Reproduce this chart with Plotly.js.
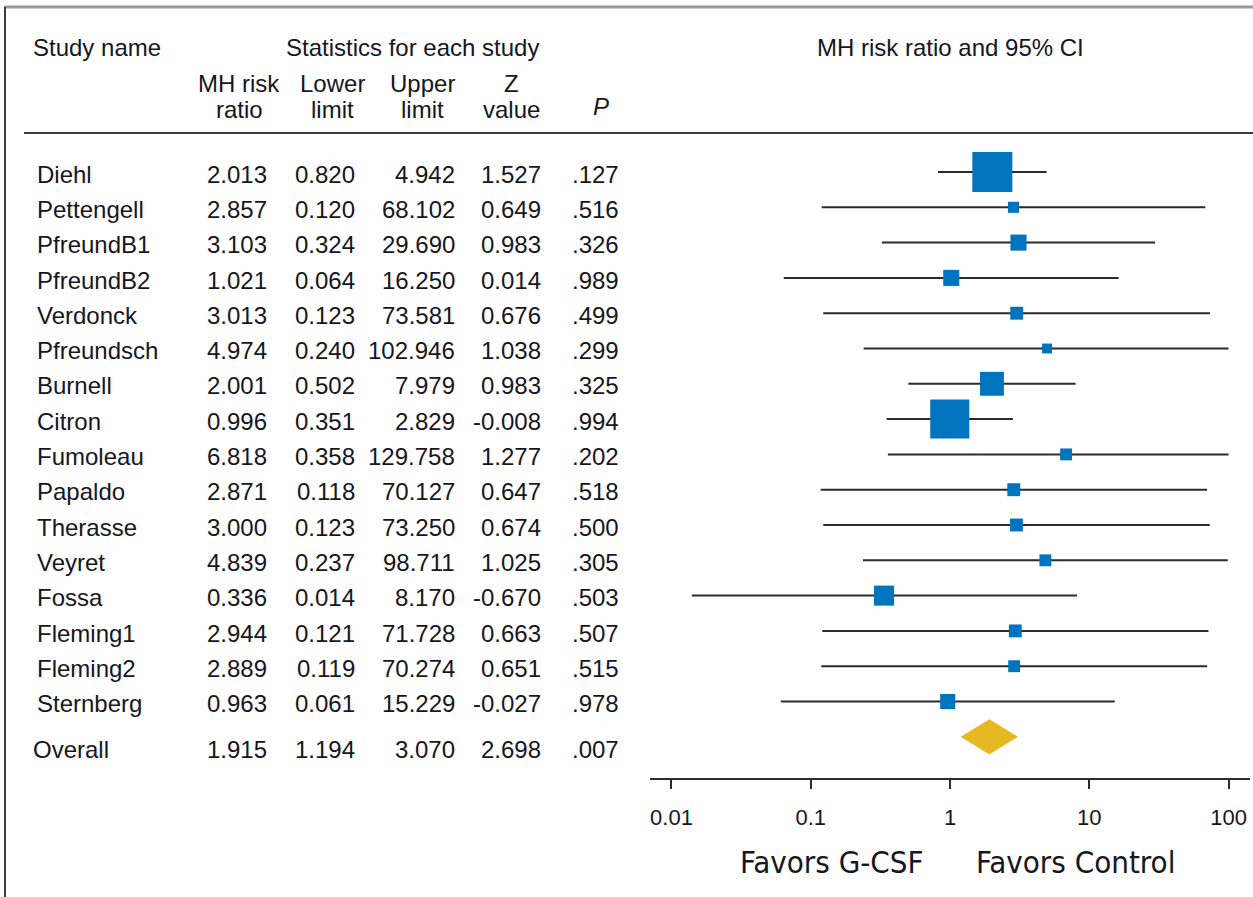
<!DOCTYPE html>
<html>
<head>
<meta charset="utf-8">
<script src="https://cdn.plot.ly/plotly-3.0.1.min.js"></script>
<style>
  html, body { margin: 0; padding: 0; background: #ffffff; }
  #chart { width: 1253px; height: 897px; }
</style>
</head>
<body>
<div id="chart"></div>
<script>
// G-CSF meta-analysis: Mantel-Haenszel risk ratios with 95% confidence limits
const studies = ["Diehl", "Pettengell", "PfreundB1", "PfreundB2", "Verdonck", "Pfreundsch",
  "Burnell", "Citron", "Fumoleau", "Papaldo", "Therasse", "Veyret", "Fossa",
  "Fleming1", "Fleming2", "Sternberg"];
const riskRatio = [2.013, 2.857, 3.103, 1.021, 3.013, 4.974, 2.001, 0.996, 6.818, 2.871,
  3.000, 4.839, 0.336, 2.944, 2.889, 0.963];
const lowerLimit = [0.820, 0.120, 0.324, 0.064, 0.123, 0.240, 0.502, 0.351, 0.358, 0.118,
  0.123, 0.237, 0.014, 0.121, 0.119, 0.061];
const upperLimit = [4.942, 68.102, 29.690, 16.250, 73.581, 102.946, 7.979, 2.829, 129.758,
  70.127, 73.250, 98.711, 8.170, 71.728, 70.274, 15.229];
const zValue = [1.527, 0.649, 0.983, 0.014, 0.676, 1.038, 0.983, -0.008, 1.277, 0.647,
  0.674, 1.025, -0.670, 0.663, 0.651, -0.027];
const pValue = [0.127, 0.516, 0.326, 0.989, 0.499, 0.299, 0.325, 0.994, 0.202, 0.518,
  0.500, 0.305, 0.503, 0.507, 0.515, 0.978];
// relative study weights (%), used for the size of each box
const relWeight = [26.0, 2.0, 4.2, 4.2, 2.7, 1.6, 9.3, 24.7, 2.3, 2.7, 2.7, 2.3, 6.5,
  2.7, 2.3, 3.7];

const overallLabel = "Overall";
const overallRR = 1.915;
const overallLower = 1.194;
const overallUpper = 3.070;
const overallZ = 2.698;
const overallP = 0.007;

const tickValues = [0.01, 0.1, 1, 10, 100];
const tickLabels = ["0.01", "0.1", "1", "10", "100"];
const axisMax = 100;

// ---- layout geometry (pixels of a 1253 x 897 page) ----
const W = 1253, H = 897;
const rowTopPx = 172, rowStepPx = 35.3;
const axisPx = 779, dividerPx = 133;
const px2row = p => (p - rowTopPx) / rowStepPx;
const xp = p => p / W;          // paper x from pixel
const yp = p => 1 - p / H;      // paper y from pixel

const ink = "#16161e";
const tableFont = { family: "Liberation Sans, Arial, sans-serif", size: 24, color: ink };
const narrowFont = { family: "Liberation Sans Narrow, DejaVu Sans Condensed, Arial Narrow, sans-serif", size: 31, color: ink };

const fmt = v => v.toFixed(3);
const fmtP = v => v.toFixed(3).replace(/^0/, "");

const rows = studies.map((_, i) => i);
const overallRow = studies.length;

// CI whiskers, clipped at the top of the axis
const ciX = [], ciY = [];
rows.forEach(i => {
  ciX.push(lowerLimit[i], Math.min(upperLimit[i], axisMax), null);
  ciY.push(i, i, null);
});

const traces = [
  {
    type: "scatter", mode: "lines", x: ciX, y: ciY,
    line: { color: "#2b2b2b", width: 2 }, hoverinfo: "skip"
  },
  {
    type: "scatter", mode: "markers", x: riskRatio, y: rows,
    marker: {
      symbol: "square", color: "#0074bf", opacity: 1,
      size: relWeight.map(w => 7.85 * Math.sqrt(w)),
      line: { width: 0 }
    },
    text: studies, hoverinfo: "text+x"
  },
  {
    type: "scatter", mode: "lines", fill: "toself",
    x: [overallLower, overallRR, overallUpper, overallRR, overallLower],
    y: [overallRow, overallRow - 0.5, overallRow, overallRow + 0.5, overallRow],
    fillcolor: "#e6b923", line: { width: 0, color: "#e6b923" }, hoverinfo: "skip"
  }
];

// table columns: right edges in pixels
const colRight = { rr: 269, lo: 357, hi: 457, z: 543, p: 621 };
const annotations = [];
const addText = (text, x, y, anchor, font, yref) => annotations.push({
  text, x, y, xref: "paper", yref: yref || "paper", xanchor: anchor, yanchor: "middle",
  showarrow: false, font: font || tableFont
});

// headers
addText("Study name", xp(31), yp(47), "left");
addText("Statistics for each study", xp(412), yp(47), "center");
addText("MH risk", xp(239), yp(84), "center");
addText("ratio", xp(239), yp(110), "center");
addText("Lower", xp(332), yp(84), "center");
addText("limit", xp(332), yp(110), "center");
addText("Upper", xp(422), yp(84), "center");
addText("limit", xp(422), yp(110), "center");
addText("Z", xp(511), yp(84), "center");
addText("value", xp(511), yp(110), "center");
addText("<i>P</i>", xp(601), yp(106), "center");
addText("MH risk ratio and 95% CI", xp(950), yp(47), "center");

// study rows
const textDy = 0.06;
rows.forEach(i => {
  const y = i + textDy;
  addText(studies[i], xp(35), y, "left", null, "y");
  addText(fmt(riskRatio[i]), xp(colRight.rr), y, "right", null, "y");
  addText(fmt(lowerLimit[i]), xp(colRight.lo), y, "right", null, "y");
  addText(fmt(upperLimit[i]), xp(colRight.hi), y, "right", null, "y");
  addText(fmt(zValue[i]), xp(colRight.z), y, "right", null, "y");
  addText(fmtP(pValue[i]), xp(colRight.p), y, "right", null, "y");
});
const oy = overallRow + 0.37;
addText(overallLabel, xp(31), oy, "left", null, "y");
addText(fmt(overallRR), xp(colRight.rr), oy, "right", null, "y");
addText(fmt(overallLower), xp(colRight.lo), oy, "right", null, "y");
addText(fmt(overallUpper), xp(colRight.hi), oy, "right", null, "y");
addText(fmt(overallZ), xp(colRight.z), oy, "right", null, "y");
addText(fmtP(overallP), xp(colRight.p), oy, "right", null, "y");

// direction labels under the axis
addText("Favors G-CSF", xp(832), yp(862), "center", narrowFont);
addText("Favors Control", xp(1075), yp(862), "center", narrowFont);

const shapes = [
  // frame: top and left borders
  { type: "line", xref: "paper", yref: "paper", x0: xp(4), x1: 1, y0: yp(7), y1: yp(7),
    line: { color: "#9a9a9a", width: 3 } },
  { type: "line", xref: "paper", yref: "paper", x0: xp(5), x1: xp(5), y0: yp(7), y1: 0,
    line: { color: "#3a3a3a", width: 2 } },
  // divider under the header
  { type: "line", xref: "paper", yref: "paper", x0: xp(24), x1: 1, y0: yp(dividerPx), y1: yp(dividerPx),
    line: { color: "#3a3a3a", width: 2 } },
  // line of no effect (log axis: position given as log10)
  { type: "line", xref: "x", yref: "paper", x0: Math.log10(1), x1: Math.log10(1),
    y0: yp(axisPx), y1: yp(dividerPx), layer: "below",
    line: { color: "#2b2b2b", width: 2 } }
];

const layout = {
  width: W, height: H,
  margin: { l: 0, r: 0, t: 0, b: 0, pad: 0 },
  paper_bgcolor: "#ffffff", plot_bgcolor: "rgba(0,0,0,0)",
  showlegend: false,
  font: tableFont,
  xaxis: {
    type: "log", range: [-2.154, 2.154],
    domain: [xp(650), xp(1250)],
    anchor: "free", position: yp(axisPx),
    showline: true, linecolor: "#2b2b2b", linewidth: 2,
    ticks: "outside", ticklen: 9, tickwidth: 2, tickcolor: "#2b2b2b",
    tickvals: tickValues, ticktext: tickLabels,
    tickfont: { family: "Liberation Sans, Arial, sans-serif", size: 22, color: ink },
    ticklabelstandoff: 10,
    showgrid: false, zeroline: false, fixedrange: true
  },
  yaxis: {
    range: [px2row(H), px2row(0)],
    domain: [0, 1], visible: false, showgrid: false, zeroline: false, fixedrange: true
  },
  shapes, annotations
};

Plotly.newPlot("chart", traces, layout, { displayModeBar: false, staticPlot: true });
</script>
</body>
</html>
